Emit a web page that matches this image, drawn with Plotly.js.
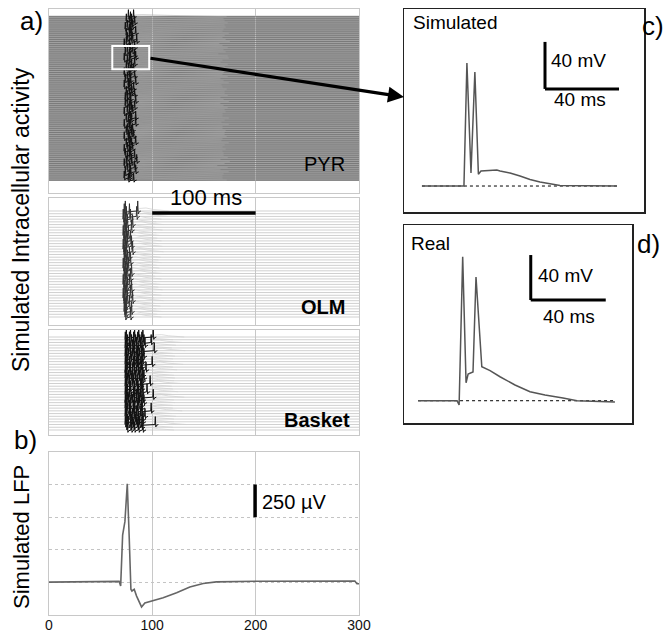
<!DOCTYPE html>
<html><head><meta charset="utf-8">
<script src="https://cdn.plot.ly/plotly-3.0.1.min.js"></script>
<style>html,body{margin:0;padding:0;background:#fff}#chart{width:664px;height:635px}</style>
</head><body><div id="chart"></div>
<script>
// ================= DATA =================
const timeTicks = [0, 100, 200, 300];          // ms
const timeTickLabels = ['0', '100', '200', '300'];

// PYR raster: first and second spike time (ms) of each row, top to bottom
const pyrSpike1 = [
 77,79,75,78,80,76,74,78,79,75,
 78,76,80,75,73,78,79,76,74,78,
 79,73,76,78,80,75,77,79,73,78,
 76,74,79,77,73,77,80,75,78,76,
 74,79,76,74,78,80,76,73,78,79,
 75,77,79,73,78,76,75,80,77,73,
 77,79,75,78,76,73,79,74,78,76,
 80,75,73,78,76,79,74,78,73,77];
const pyrSpike2 = [
 82,null,80,83,null,81,79,null,84,80,
 null,81,85,null,78,83,null,81,null,83,
 84,78,null,83,null,80,82,null,78,83,
 null,79,84,null,78,82,null,80,83,null,
 79,84,null,79,83,null,81,78,null,84,
 80,null,84,78,null,81,80,null,82,78,
 null,84,80,null,81,78,null,79,83,null,
 85,80,null,83,null,84,79,null,78,82];

// OLM raster: spike times (ms) per row
const olmSpikes = [
 [74,86],[73,78],[75,85],[72,79],[74],[76,81],[73],[75,80],[74],[72,77],
 [75],[73,79],[76],[74,80],[72],[75,81],[73],[74,78],[76],[73,79],
 [75],[72,77],[74],[76,80],[73],[75,79],[74],[72,78],[76],[73,80],
 [75],[74,79],[72],[76,81],[73],[75,78],[74],[73,80],[75],[74,79]];

// Basket raster: spike times (ms) per row
const basketSpikes = [
 [75,79,83,87,91,101],[74,78,82,86,90],[76,80,84,88,92,99],[75,78,82,85,89,93],
 [74,78,81,85,89],[76,79,83,87,91,102],[75,79,82,86,90],[74,77,81,85,88,92],
 [75,79,83,86,90],[76,80,83,87,91],[74,78,82,85,89,100],[75,78,82,86,90],
 [76,79,83,87,90,94],[74,78,81,85,89],[75,79,83,87,91],[74,77,81,84,88,92],
 [76,80,84,88,91],[75,78,82,86,90,98],[74,78,81,85,89],[75,79,83,86,90],
 [76,79,83,87,91,95],[74,78,82,86,89],[75,78,82,85,89,101],[76,80,83,87,91],
 [74,77,81,85,88,92],[75,79,83,87,90],[74,78,82,86,90],[76,79,83,86,90,99],
 [75,78,82,85,89],[74,78,81,85,89,93],[75,79,83,87,91],[76,80,84,87,91],
 [74,77,81,85,88,103],[75,79,82,86,90],[76,80,83,87,91]];

// Simulated LFP (time ms, µV)
const lfpT = [0, 30, 60, 68, 69.5, 71.4, 73.6, 75.9, 77.8, 79.4, 80.4, 82.6, 84.9, 87.4, 89.7, 92.9, 101, 110.6, 123.6, 136.4, 149.3, 162, 204, 250, 296, 298, 300];
const lfpV = [2, 5, 8, 8, -27, 362, 466, 757, 336, -53, -66, -53, -105, -144, -188, -157, -139, -118, -79, -35, -9, 4, 9, 10, 10, -10, -10];

// c) simulated single PYR cell (ms, mV)
const simT = [0, 22.7, 24.3, 26.5, 28.6, 30.5, 31.9, 36.8, 40.5, 42.2, 47.6, 53, 58.4, 63.8, 69.2, 74.6, 105.4];
const simV = [-65, -65, 39.7, -54, 32, -55, -52.2, -51.4, -51.4, -52.2, -54, -56.5, -59.5, -61.6, -63.3, -64.6, -65];
// d) real recording (ms, mV)
const realT = [0, 20.8, 21.9, 23.8, 25.6, 26.7, 29.3, 30.9, 34, 38.4, 43.7, 51.7, 59.7, 67.7, 77.3, 84.8, 105];
const realV = [-65, -65, -68.8, 63, -49, -41.3, -39.5, 45, -34.8, -38.2, -43.7, -51, -57, -60, -62.6, -65, -66.2];
const restV = -65;

// ================= HELPERS =================
const W = 664, H = 635;
const PX = x => x / W, PY = y => 1 - y / H;
const FONT = 'Liberation Sans, Arial, sans-serif';

// turns spike times into trace paths drawn on each row (baseline, spikes, after-potential)
function raster(rows, amp, tail) {
  const bx = [], by = [], sx = [], sy = [], ax = [], ay = [];
  rows.forEach((spk, r) => {
    bx.push(0, 300, null); by.push(r, r, null);
    const s = spk.filter(v => v != null);
    if (!s.length) return;
    s.forEach(t => {
      sx.push(t - 0.4, t, t + 0.5, t + 1.2);
      sy.push(r, r - amp, r + 0.3 * amp, r + 0.1 * amp);
    });
    const last = s[s.length - 1];
    sx.push(last + 3, null); sy.push(r, null);
    ax.push(last + 1.5, last + 8, last + tail * 0.5, last + tail, null);
    ay.push(r - 0.25 * amp, r - 0.3 * amp, r - 0.15 * amp, r, null);
  });
  return {bx, by, sx, sy, ax, ay};
}

const pyrRows = pyrSpike1.map((t, i) => [t, pyrSpike2[i]]);
const P = raster(pyrRows, 3.4, 90);
const O = raster(olmSpikes, 3.7, 30);
const B = raster(basketSpikes, 2.9, 30);

const traces = [
  {x: P.bx, y: P.by, xaxis: 'x', yaxis: 'y', mode: 'lines', line: {color: '#6a6a6a', width: 0.7}},
  {x: P.ax, y: P.ay, xaxis: 'x', yaxis: 'y', mode: 'lines', line: {color: '#ababab', width: 0.5}},
  {x: P.sx, y: P.sy, xaxis: 'x', yaxis: 'y', mode: 'lines', line: {color: '#111', width: 1}},
  {x: O.bx, y: O.by, xaxis: 'x2', yaxis: 'y2', mode: 'lines', line: {color: '#c4c4c4', width: 0.8}},
  {x: O.ax, y: O.ay, xaxis: 'x2', yaxis: 'y2', mode: 'lines', line: {color: '#d0d0d0', width: 0.7}},
  {x: O.sx, y: O.sy, xaxis: 'x2', yaxis: 'y2', mode: 'lines', line: {color: '#333', width: 1}},
  {x: B.bx, y: B.by, xaxis: 'x3', yaxis: 'y3', mode: 'lines', line: {color: '#c4c4c4', width: 0.8}},
  {x: B.ax, y: B.ay, xaxis: 'x3', yaxis: 'y3', mode: 'lines', line: {color: '#d0d0d0', width: 0.7}},
  {x: B.sx, y: B.sy, xaxis: 'x3', yaxis: 'y3', mode: 'lines', line: {color: '#111', width: 1}},
  {x: lfpT, y: lfpV, xaxis: 'x4', yaxis: 'y4', mode: 'lines', line: {color: '#666', width: 1.6}},
  {x: [simT[0], simT[simT.length - 1]], y: [restV, restV], xaxis: 'x5', yaxis: 'y5', mode: 'lines', line: {color: '#000', width: 1, dash: 'dot'}},
  {x: simT, y: simV, xaxis: 'x5', yaxis: 'y5', mode: 'lines', line: {color: '#555', width: 1.5}},
  {x: [realT[0], realT[realT.length - 1]], y: [restV, restV], xaxis: 'x6', yaxis: 'y6', mode: 'lines', line: {color: '#000', width: 1, dash: 'dot'}},
  {x: realT, y: realV, xaxis: 'x6', yaxis: 'y6', mode: 'lines', line: {color: '#555', width: 1.5}}
];
traces.forEach(t => { t.hoverinfo = 'skip'; t.showlegend = false; });

const xd = [PX(48.8), PX(359)];
const grey = '#c8c8c8';
function tAxis(extra) {
  return Object.assign({domain: xd, range: [0, 300], tickvals: timeTicks, ticktext: timeTickLabels,
    showticklabels: false, showgrid: true, gridcolor: grey, gridwidth: 1, zeroline: false,
    showline: true, mirror: true, linecolor: grey, linewidth: 1, ticks: '', fixedrange: true}, extra || {});
}
function rAxis(dom, range) {
  return {domain: dom, range: range, showgrid: false, showticklabels: false, zeroline: false,
    showline: true, mirror: true, linecolor: grey, linewidth: 1, ticks: ''};
}
function cellAxis(dom, range) {
  return {domain: dom, range: range, showgrid: false, showticklabels: false, zeroline: false,
    showline: true, mirror: true, linecolor: '#222', linewidth: 1.5, ticks: ''};
}

function txt(text, x, y, size, opts) {
  return Object.assign({text: text, x: PX(x), y: PY(y), xref: 'paper', yref: 'paper', showarrow: false,
    font: {family: FONT, size: size, color: '#000'}, xanchor: 'center', yanchor: 'middle'}, opts || {});
}

const layout = {
  width: W, height: H, margin: {l: 0, r: 0, t: 0, b: 0},
  paper_bgcolor: '#fff', plot_bgcolor: '#fff', showlegend: false,
  font: {family: FONT, color: '#000'},
  xaxis: tAxis({anchor: 'y'}),
  yaxis: rAxis([PY(192.7), PY(9)], [85.1, -3.72]),
  xaxis2: tAxis({anchor: 'y2'}),
  yaxis2: rAxis([PY(325), PY(198)], [41.94, -4.78]),
  xaxis3: tAxis({anchor: 'y3'}),
  yaxis3: rAxis([PY(435), PY(330)], [35.83, -2.56]),
  xaxis4: tAxis({anchor: 'y4', showticklabels: true, ticklabelstandoff: -3,
    tickfont: {family: FONT, size: 14, color: '#111'}}),
  yaxis4: {domain: [PY(615), PY(452)], range: [-250, 1000], dtick: 250, tick0: 0, showgrid: true,
    gridcolor: '#c4c4c4', griddash: 'dot', showticklabels: false, zeroline: false, showline: true,
    mirror: true, linecolor: grey, ticks: ''},
  xaxis5: Object.assign(cellAxis([PX(404), PX(644)], [-9.7, 120]), {anchor: 'y5'}),
  yaxis5: Object.assign(cellAxis([PY(212), PY(9)], [-87.1, 85.6]), {anchor: 'x5'}),
  xaxis6: Object.assign(cellAxis([PX(404), PX(632)], [-7.5, 114.1]), {anchor: 'y6'}),
  yaxis6: Object.assign(cellAxis([PY(423), PY(225)], [-84.8, 91.2]), {anchor: 'x6'}),
  shapes: [
    // grey band of densely packed PYR traces
    {type: 'rect', xref: 'x', yref: 'y', x0: 0, x1: 300, y0: -0.5, y1: pyrSpike1.length - 0.5,
      fillcolor: '#a0a0a0', line: {width: 0}, layer: 'below'},
    // white highlight box
    {type: 'rect', xref: 'x', yref: 'paper', x0: 61.4, x1: 97.1, y0: PY(69.3), y1: PY(46),
      line: {color: '#fff', width: 2}, fillcolor: 'rgba(0,0,0,0)'},
    // 100 ms scale bar
    {type: 'line', xref: 'x', yref: 'paper', x0: 100, x1: 200, y0: PY(213), y1: PY(213), line: {color: '#000', width: 3.3}},
    // 250 µV scale bar
    {type: 'line', xref: 'x4', yref: 'y4', x0: 199.5, x1: 199.5, y0: 500, y1: 750, line: {color: '#000', width: 3.5}},
    // c) scale bars 40 mV / 40 ms
    {type: 'line', xref: 'x5', yref: 'y5', x0: 66.5, x1: 66.5, y0: 17.6, y1: 57.6, line: {color: '#000', width: 3}},
    {type: 'line', xref: 'x5', yref: 'y5', x0: 66.5, x1: 106.5, y0: 17.6, y1: 17.6, line: {color: '#000', width: 3}},
    // d) scale bars
    {type: 'line', xref: 'x6', yref: 'y6', x0: 60.1, x1: 60.1, y0: 24.5, y1: 64.5, line: {color: '#000', width: 3}},
    {type: 'line', xref: 'x6', yref: 'y6', x0: 60.1, x1: 100.1, y0: 24.5, y1: 24.5, line: {color: '#000', width: 3}}
  ],
  annotations: [
    txt('a)', 31, 21, 26), txt('b)', 25, 440, 26), txt('c)', 653, 26, 26), txt('d)', 648, 244, 26),
    txt('Simulated Intracellular activity', 21, 220, 23, {textangle: -90}),
    txt('Simulated LFP', 21, 537, 22, {textangle: -90}),
    txt('100 ms', 205.5, 197, 22),
    txt('PYR', 347, 163.5, 20, {xanchor: 'right'}),
    txt('<b>OLM</b>', 347, 307, 20, {xanchor: 'right'}),
    txt('<b>Basket</b>', 352, 420, 20, {xanchor: 'right'}),
    txt('250 µV', 260, 501.5, 20, {xanchor: 'left'}),
    txt('Simulated', 411, 23, 19, {xanchor: 'left'}),
    txt('40 mV', 549, 60, 19, {xanchor: 'left'}),
    txt('40 ms', 580, 99, 19),
    txt('Real', 409, 243.5, 19, {xanchor: 'left'}),
    txt('40 mV', 536, 275, 19, {xanchor: 'left'}),
    txt('40 ms', 569, 316.5, 19),
    // arrow from the highlighted PYR cell to panel c)
    {text: '', x: PX(404), y: PY(97), xref: 'paper', yref: 'paper', showarrow: true,
      ax: 149 - 404, ay: 58 - 97, axref: 'pixel', ayref: 'pixel',
      arrowhead: 2, arrowsize: 1, arrowwidth: 3.2, arrowcolor: '#000', standoff: 0, startstandoff: 0}
  ]
};

Plotly.newPlot('chart', traces, layout, {staticPlot: true, displayModeBar: false});
</script></body></html>
